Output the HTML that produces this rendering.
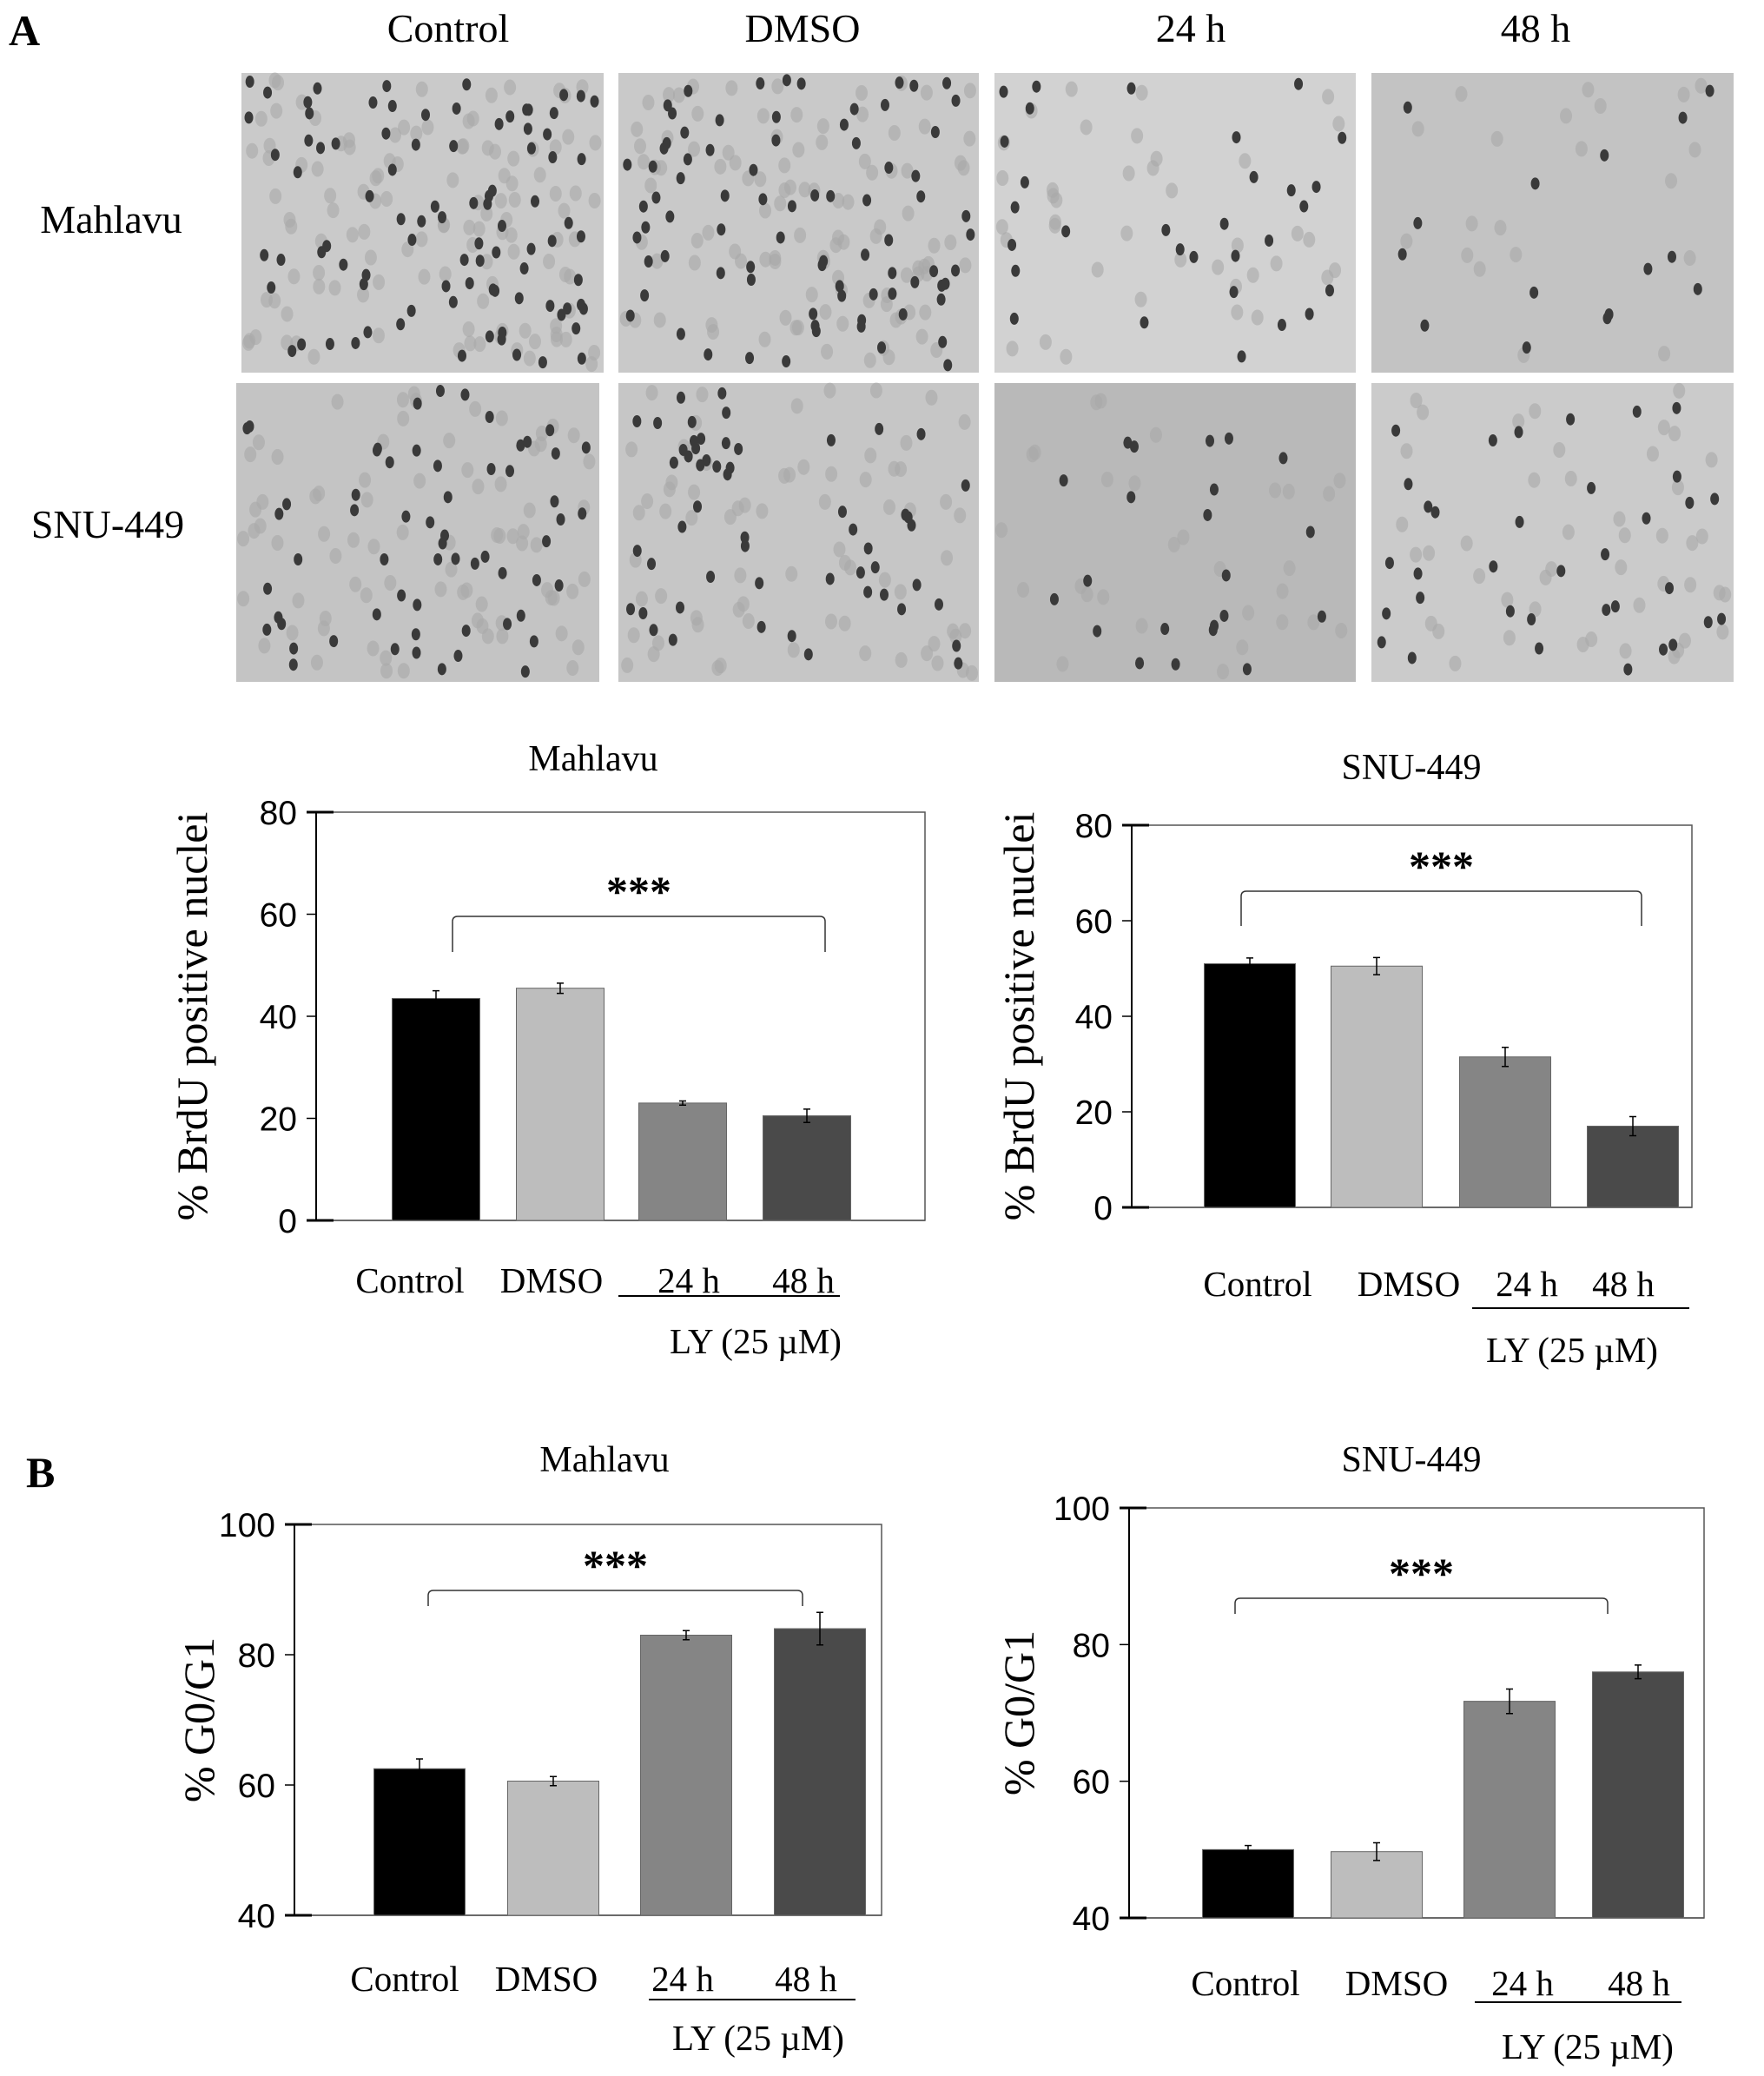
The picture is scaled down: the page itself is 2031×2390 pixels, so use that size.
<!DOCTYPE html>
<html><head><meta charset="utf-8"><style>
html,body{margin:0;padding:0;background:#fff}
svg{display:block}
.serif{font-family:"Liberation Serif",serif}
.sans{font-family:"Liberation Sans",sans-serif}
</style></head><body>
<svg id="fig" width="2031" height="2390" viewBox="0 0 2031 2390" xmlns="http://www.w3.org/2000/svg">
<g class="serif" font-size="46" fill="#000">
<text x="10" y="52" font-size="50" font-weight="bold">A</text>
<text x="516" y="48" text-anchor="middle">Control</text>
<text x="924" y="48" text-anchor="middle">DMSO</text>
<text x="1371" y="48" text-anchor="middle">24 h</text>
<text x="1768" y="48" text-anchor="middle">48 h</text>
<text x="128" y="268" text-anchor="middle">Mahlavu</text>
<text x="124" y="619" text-anchor="middle">SNU-449</text>
<text x="30" y="1712" font-size="50" font-weight="bold">B</text>
</g>
<g id="micro"></g>
<g id="charts"></g>
</svg>
<script>
// ---- chart data ----
const categories = ["Control","DMSO","24 h","48 h"];
const brduMahlavu = [43.5, 45.5, 23, 20.5];
const brduMahlavuErr = [1.5, 1.0, 0.4, 1.3];
const brduSnu = [51, 50.5, 31.5, 17];
const brduSnuErr = [1.2, 1.8, 2.0, 2.0];
const g1Mahlavu = [62.5, 60.6, 83, 84];
const g1MahlavuErr = [1.5, 0.7, 0.7, 2.5];
const g1Snu = [50, 49.7, 71.7, 76];
const g1SnuErr = [0.6, 1.3, 1.8, 1.0];
const brduTicks = [0, 20, 40, 60, 80];
const g1Ticks = [40, 60, 80, 100];
const barColors = ["#000000","#bdbdbd","#858585","#4a4a4a"];

const NS = "http://www.w3.org/2000/svg";
function mk(tag, attrs, parent){
  const e = document.createElementNS(NS, tag);
  for (const k in attrs) e.setAttribute(k, attrs[k]);
  parent.appendChild(e);
  return e;
}

// ---- micrographs (decorative texture) ----
const micro = document.getElementById('micro');
const panels = [
  [278,84,417,345,"#cacaca",90],[712,84,415,345,"#c9c9c9",80],[1145,84,416,345,"#d2d2d2",30],[1579,84,417,345,"#c3c3c3",15],
  [272,441,418,344,"#c4c4c4",60],[712,441,415,344,"#c6c6c6",55],[1145,441,416,344,"#b9b9b9",22],[1579,441,417,344,"#cbcbcb",35]
];
let seed = 7;
function rnd(){ seed = (seed*16807) % 2147483647; return seed/2147483647; }
panels.forEach((p,i)=>{
  const g = mk('g',{},micro);
  
  
  mk('rect',{x:p[0],y:p[1],width:p[2],height:p[3],fill:p[4]},g);
  for(let k=0;k<p[5]*1.3;k++){
    mk('ellipse',{cx:p[0]+8+rnd()*(p[2]-16),cy:p[1]+8+rnd()*(p[3]-16),rx:7,ry:9,fill:"#a8a8a8",opacity:0.6},g);
  }
  for(let k=0;k<p[5];k++){
    mk('ellipse',{cx:p[0]+8+rnd()*(p[2]-16),cy:p[1]+8+rnd()*(p[3]-16),rx:5,ry:7,fill:"#3a3a3a"},g);
  }
});

// ---- bar charts ----
const charts = document.getElementById('charts');
function chart(o){
  const g = mk('g',{},charts);
  
  
  const ymin = o.ticks[0], ymax = o.ticks[o.ticks.length-1];
  const y = v => o.bottom - (v-ymin)/(ymax-ymin)*(o.bottom-o.top);
  const plot = mk('rect',{x:o.left,y:o.top,width:o.right-o.left,height:o.bottom-o.top,fill:"none",stroke:"#555","stroke-width":1.5},g);
  
  
  mk('line',{x1:o.left,y1:o.top,x2:o.left,y2:o.bottom,stroke:"#000","stroke-width":2},g);
  mk('line',{x1:o.left,y1:o.bottom,x2:o.right,y2:o.bottom,stroke:"#555","stroke-width":1.5},g);
  o.ticks.forEach((t,i)=>{
    const end = (i===0 || i===o.ticks.length-1);
    const tk = mk('line',{x1:o.left-11,y1:y(t),x2:end?o.left+20:o.left,y2:y(t),stroke:"#000","stroke-width":end?3:1.5},g);
    
    
    const tl = mk('text',{x:o.left-22,y:y(t)+14,"text-anchor":"end","font-size":39,class:"sans"},g);
    tl.textContent = t;
    
    
  });
  const bw = o.barW;
  o.values.forEach((v,i)=>{
    const cx = o.centers[i];
    const b = mk('rect',{x:cx-bw/2,y:y(v),width:bw,height:o.bottom-y(v),fill:barColors[i],stroke:"#666","stroke-width":1},g);
    
    
    const e = o.errs[i];
    const eb = mk('path',{d:`M${cx},${y(v+e)}V${y(v-e)}M${cx-4},${y(v+e)}H${cx+4}M${cx-4},${y(v-e)}H${cx+4}`,stroke:"#000","stroke-width":1.5,fill:"none"},g);
    
    
  });
  const br = mk('path',{d:`M${o.br[0]},${o.br[3]}V${o.br[2]+6}Q${o.br[0]},${o.br[2]} ${o.br[0]+6},${o.br[2]}H${o.br[1]-6}Q${o.br[1]},${o.br[2]} ${o.br[1]},${o.br[2]+6}V${o.br[3]}`,stroke:"#333","stroke-width":1.5,fill:"none"},g);
  
  
  const st = mk('text',{x:(o.br[0]+o.br[1])/2,y:o.br[2]-12,"text-anchor":"middle","font-size":50,class:"serif","font-weight":"bold"},g);
  st.textContent = "***";
  
  
  const ti = mk('text',{x:o.titleX,y:o.titleY,"text-anchor":"middle","font-size":42,class:"serif"},g);
  ti.textContent = o.title;
  
  
  const yl = mk('text',{x:0,y:0,transform:`translate(${o.ylX},${(o.top+o.bottom)/2}) rotate(-90)`,"text-anchor":"middle","font-size":50,class:"serif"},g);
  yl.textContent = o.ylabel;
  
  
  categories.forEach((c,i)=>{
    const t = mk('text',{x:o.labelX[i],y:o.labelY,"text-anchor":"middle","font-size":41,class:"serif"},g);
    t.textContent = c;
    
    
  });
  const ul = mk('line',{x1:o.ul[0],y1:o.ul[2],x2:o.ul[1],y2:o.ul[2],stroke:"#000","stroke-width":2},g);
  
  
  const ly = mk('text',{x:o.ly[0],y:o.ly[1],"text-anchor":"middle","font-size":41,class:"serif"},g);
  ly.textContent = "LY (25 \u00b5M)";
  
  
}

chart({name:"brdu-mahlavu-chart",left:364,right:1065,top:935,bottom:1405,ticks:brduTicks,values:brduMahlavu,errs:brduMahlavuErr,
  centers:[502,645,786,929],barW:101,br:[521,950,1055,1096],title:"Mahlavu",titleX:683,titleY:887,ylX:238,ylabel:"%  BrdU positive nuclei",
  labelX:[472,635,793,925],labelY:1488,ul:[712,967,1492],ly:[870,1558]});
chart({name:"brdu-snu449-chart",left:1303,right:1948,top:950,bottom:1390,ticks:brduTicks,values:brduSnu,errs:brduSnuErr,
  centers:[1439,1585,1733,1880],barW:105,br:[1429,1890,1026,1066],title:"SNU-449",titleX:1625,titleY:897,ylX:1190,ylabel:"% BrdU positive nuclei",
  labelX:[1448,1622,1758,1869],labelY:1492,ul:[1695,1945,1506],ly:[1810,1568]});
chart({name:"g1-mahlavu-chart",left:339,right:1015,top:1755,bottom:2205,ticks:g1Ticks,values:g1Mahlavu,errs:g1MahlavuErr,
  centers:[483,637,790,944],barW:105,br:[493,924,1831,1849],title:"Mahlavu",titleX:696,titleY:1694,ylX:246,ylabel:"% G0/G1",
  labelX:[466,629,786,928],labelY:2292,ul:[747,985,2302],ly:[873,2360]});
chart({name:"g1-snu449-chart",left:1300,right:1962,top:1736,bottom:2208,ticks:g1Ticks,values:g1Snu,errs:g1SnuErr,
  centers:[1437,1585,1738,1886],barW:105,br:[1422,1851,1840,1858],title:"SNU-449",titleX:1625,titleY:1694,ylX:1190,ylabel:"% G0/G1",
  labelX:[1434,1608,1753,1887],labelY:2297,ul:[1698,1936,2305],ly:[1828,2370]});
</script>
</body></html>
